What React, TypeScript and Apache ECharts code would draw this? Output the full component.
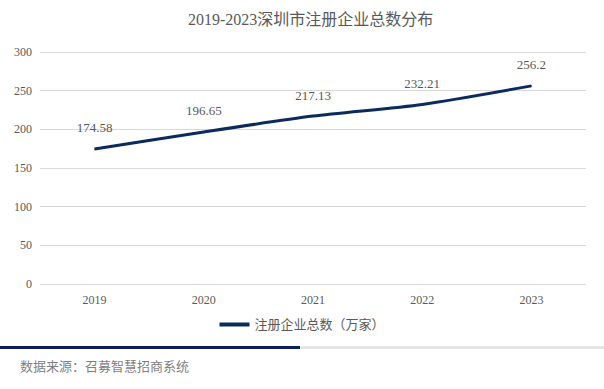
import React, { useEffect, useRef } from "react";
import * as echarts from "echarts";

const title = "2019-2023深圳市注册企业总数分布";
const categories = ["2019", "2020", "2021", "2022", "2023"];
const seriesName = "注册企业总数（万家）";
const values = [174.58, 196.65, 217.13, 232.21, 256.2];
const yTicks = { min: 0, max: 300, interval: 50 };
const sourceText = "数据来源：召募智慧招商系统";

export default function App() {
  const ref = useRef<HTMLDivElement>(null);
  useEffect(() => {
    document.body.style.margin = "0";
    const chart = echarts.init(ref.current!, null, { renderer: "svg" });
    const font = "'Liberation Serif', 'Noto Sans CJK SC', serif";
    chart.setOption({
      animation: false,
      backgroundColor: "#ffffff",
      title: {
        text: title,
        left: 183,
        top: 6,
        textStyle: { fontSize: 16, fontWeight: "normal", color: "#595959", fontFamily: font },
      },
      grid: { left: 40, right: 18, top: 52, bottom: 105 },
      legend: {
        data: [{ name: seriesName, icon: "rect" }],
        bottom: 53,
        left: "center",
        itemWidth: 30,
        itemHeight: 4,
        itemGap: 4,
        textStyle: { fontSize: 13, color: "#595959", fontFamily: font },
      },
      xAxis: {
        type: "category",
        data: categories,
        boundaryGap: true,
        axisLine: { show: false },
        axisTick: { show: false },
        axisLabel: { color: "#595959", fontSize: 12, margin: 10, fontFamily: font },
      },
      yAxis: {
        type: "value",
        min: yTicks.min,
        max: yTicks.max,
        interval: yTicks.interval,
        axisLine: { show: false },
        axisTick: { show: false },
        axisLabel: { color: "#595959", fontSize: 12, margin: 8, fontFamily: font },
        splitLine: { lineStyle: { color: "#d9d9d9", width: 1 } },
      },
      series: [
        {
          name: seriesName,
          type: "line",
          data: values,
          smooth: 0.25,
          symbol: "circle",
          symbolSize: 1,
          showSymbol: true,
          lineStyle: { color: "#0d2a5c", width: 3 },
          itemStyle: { color: "#0d2a5c" },
          label: {
            show: true,
            position: "top",
            distance: 14,
            color: "#595959",
            fontSize: 13,
            fontFamily: font,
          },
        },
      ],
      graphic: [
        { type: "rect", left: 0, top: 346, shape: { width: 300, height: 3 }, style: { fill: "#0d1f5c" } },
        { type: "rect", left: 300, top: 346, shape: { width: 304, height: 3 }, style: { fill: "#e6e6e6" } },
        {
          type: "text",
          left: 20,
          top: 360,
          style: { text: sourceText, fontSize: 13, fill: "#7f7f7f", fontFamily: font },
        },
      ],
    });
    return () => chart.dispose();
  }, []);
  return <div ref={ref} style={{ width: 604, height: 389 }} />;
}
